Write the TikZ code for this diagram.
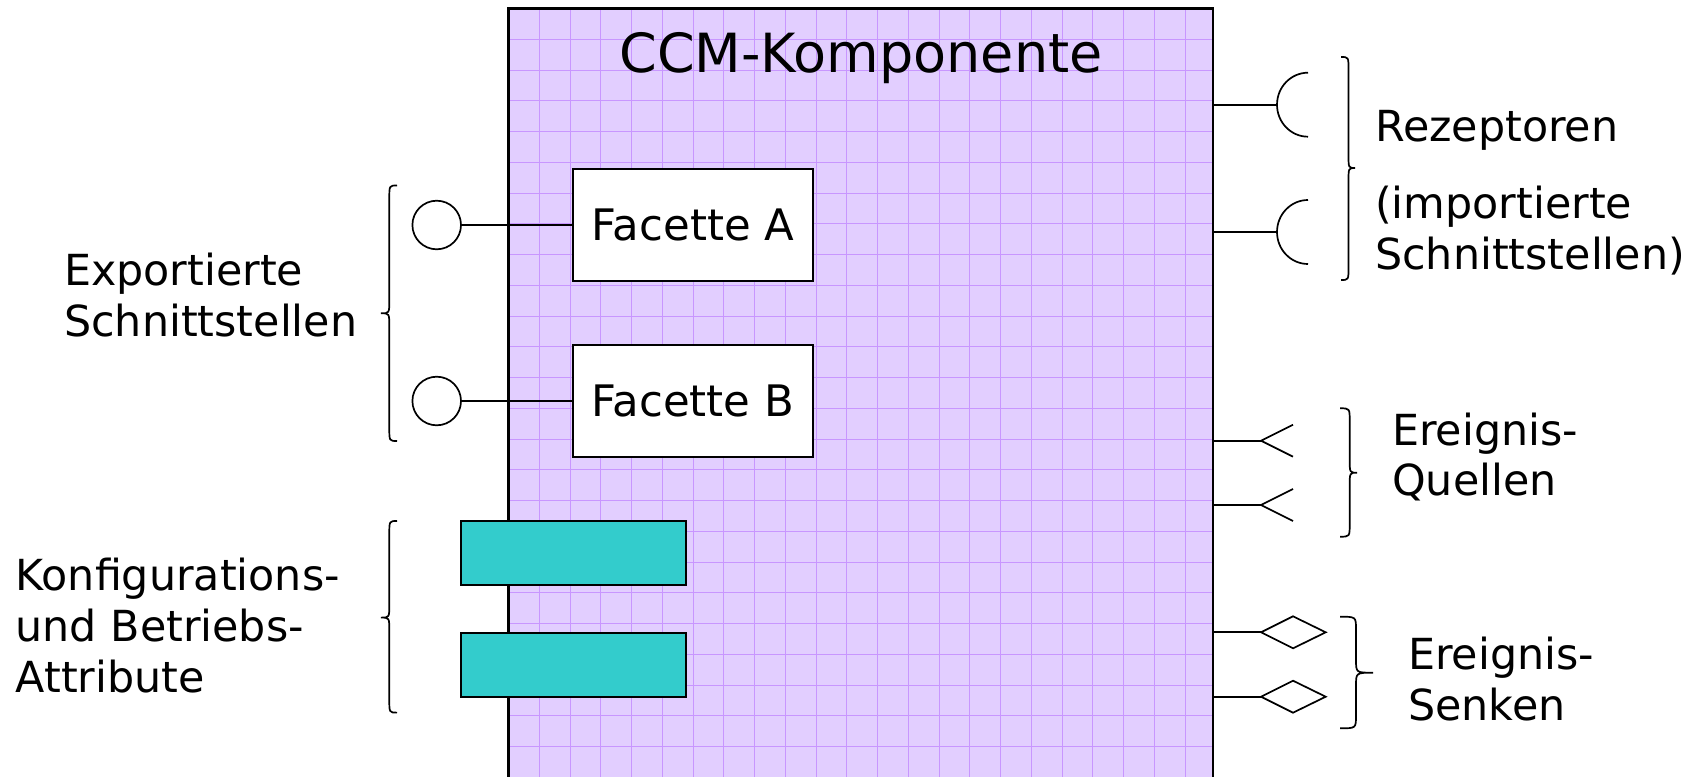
\documentclass[tikz,border=0pt]{standalone}
\usepackage{fontspec}
\setmainfont{DejaVu Sans}
\definecolor{ccmfill}{RGB}{226,206,255}
\definecolor{gridc}{RGB}{200,150,255}
\definecolor{teal33}{RGB}{51,204,204}
\newcommand\mybrace[6]{% xe xv xt y1 ym y2
  \draw[bracestyle] (#1,#4) .. controls (#2,#4) .. (#2,{#4+13}) -- (#2,{#5-13})
    .. controls (#2,#5) .. (#3,#5) .. controls (#2,#5) .. (#2,{#5+13})
    -- (#2,{#6-13}) .. controls (#2,#6) .. (#1,#6);}
\begin{document}
\begin{tikzpicture}[x=1pt,y=-1pt,
  lbl/.style={anchor=base west, inner sep=0pt, font=\fontsize{42.8}{51}\selectfont},
  conn/.style={line width=1.7pt},
  facet/.style={draw, line width=2pt, fill=white, minimum width=240.6pt, minimum height=111.5pt, inner sep=0pt, font=\fontsize{43.4}{51}\selectfont},
  attr/.style={draw, line width=2pt, fill=teal33, minimum width=225pt, minimum height=64.4pt, inner sep=0pt},
  port/.style={circle, draw, line width=1.7pt, fill=white, minimum size=48.6pt, inner sep=0pt},
  bracestyle/.style={line width=1.7pt},
  gridline/.style={draw=gridc, line width=1pt},
  sym/.style={line width=1.7pt, line join=miter}]
\useasboundingbox (0,0) rectangle (1693,776);
\clip (0,0) rectangle (1693,776);
% component body
\node[fill=ccmfill, minimum width=704.5pt, minimum height=781.4pt, anchor=north west, inner sep=0pt, outer sep=0pt] (comp) at (508.5,8.6) {};
\begin{scope}
  \clip (508.5,8.6) rectangle (1213,790);
  \foreach \i in {1,...,22} \draw[gridline] ({508.5+\i*30.75},8.6) -- ({508.5+\i*30.75},790);
  \foreach \j in {1,...,25} \draw[gridline] (508.5,{8.6+\j*30.75}) -- (1213,{8.6+\j*30.75});
\end{scope}
\draw[line width=2.2pt] (comp.south west) -- (comp.north west) -- (comp.north east) -- (comp.south east);
\node[anchor=base, inner sep=0pt, font=\fontsize{54}{60}\selectfont] (title) at (861,73) {CCM-Komponente};

% facets and exported interfaces
\node[facet] (fa) at (693,225) {Facette A};
\node[facet] (fb) at (693,401) {Facette B};
\node[port] (pa) at (436.7,225) {};
\node[port] (pb) at (436.7,401) {};
\draw[conn] (pa) -- (fa);
\draw[conn] (pb) -- (fb);

% attributes
\node[attr] (at1) at (573,552.9) {};
\node[attr] (at2) at (573,665.2) {};

% receptacles
\coordinate (r1) at (1277,104.7);
\coordinate (r2) at (1277,232);
\draw[conn] (comp.east |- r1) -- (r1);
\draw[conn] (comp.east |- r2) -- (r2);
\draw[conn] (1308,72.7) .. controls (1290.9,72.7) and (1277,87) .. (r1) .. controls (1277,122.4) and (1290.9,136.7) .. (1308,136.7);
\draw[conn] (1308,200) .. controls (1290.9,200) and (1277,214.3) .. (r2) .. controls (1277,249.7) and (1290.9,264) .. (1308,264);

% event sources
\coordinate (q1) at (1261,440.7);
\coordinate (q2) at (1261,505);
\draw[conn] (comp.east |- q1) -- (q1);
\draw[conn] (comp.east |- q2) -- (q2);
\draw[sym] (1293,424.7) -- (q1) -- (1293,456.7);
\draw[sym] (1293,489) -- (q2) -- (1293,521);

% event sinks
\coordinate (d1) at (1261,632.3);
\coordinate (d2) at (1261,696.7);
\draw[conn] (comp.east |- d1) -- (d1);
\draw[conn] (comp.east |- d2) -- (d2);
\draw[sym] (d1) -- (1293,616.3) -- (1325.7,632.3) -- (1293,648.3) -- cycle;
\draw[sym] (d2) -- (1293,680.7) -- (1325.7,696.7) -- (1293,712.7) -- cycle;

% braces
\mybrace{397}{389.3}{381}{185.5}{313.3}{441}
\mybrace{397}{389.3}{381}{521}{617.6}{712.6}
\mybrace{1341}{1348.5}{1355}{57}{168}{280}
\mybrace{1340}{1349.7}{1357}{408.3}{472.7}{536.7}
\mybrace{1340}{1356}{1373}{616.7}{672.7}{728.3}

% labels
\node[lbl] (exp1) at (64,285) {Exportierte};
\node[lbl] (exp2) at (64,336.5) {Schnittstellen};
\node[lbl] (kon1) at (15.5,590) {Konfigurations-};
\node[lbl] (kon2) at (15.5,641) {und Betriebs-};
\node[lbl] (kon3) at (15.5,692) {Attribute};
\node[lbl] (rez1) at (1375,141.5) {Rezeptoren};
\node[lbl] (rez2) at (1375,218) {(importierte};
\node[lbl] (rez3) at (1375,269.5) {Schnittstellen)};
\node[lbl] (que1) at (1392,445) {Ereignis-};
\node[lbl] (que2) at (1392,495.5) {Quellen};
\node[lbl] (sen1) at (1408,669.5) {Ereignis-};
\node[lbl] (sen2) at (1408,720.3) {Senken};
\end{tikzpicture}
\end{document}
